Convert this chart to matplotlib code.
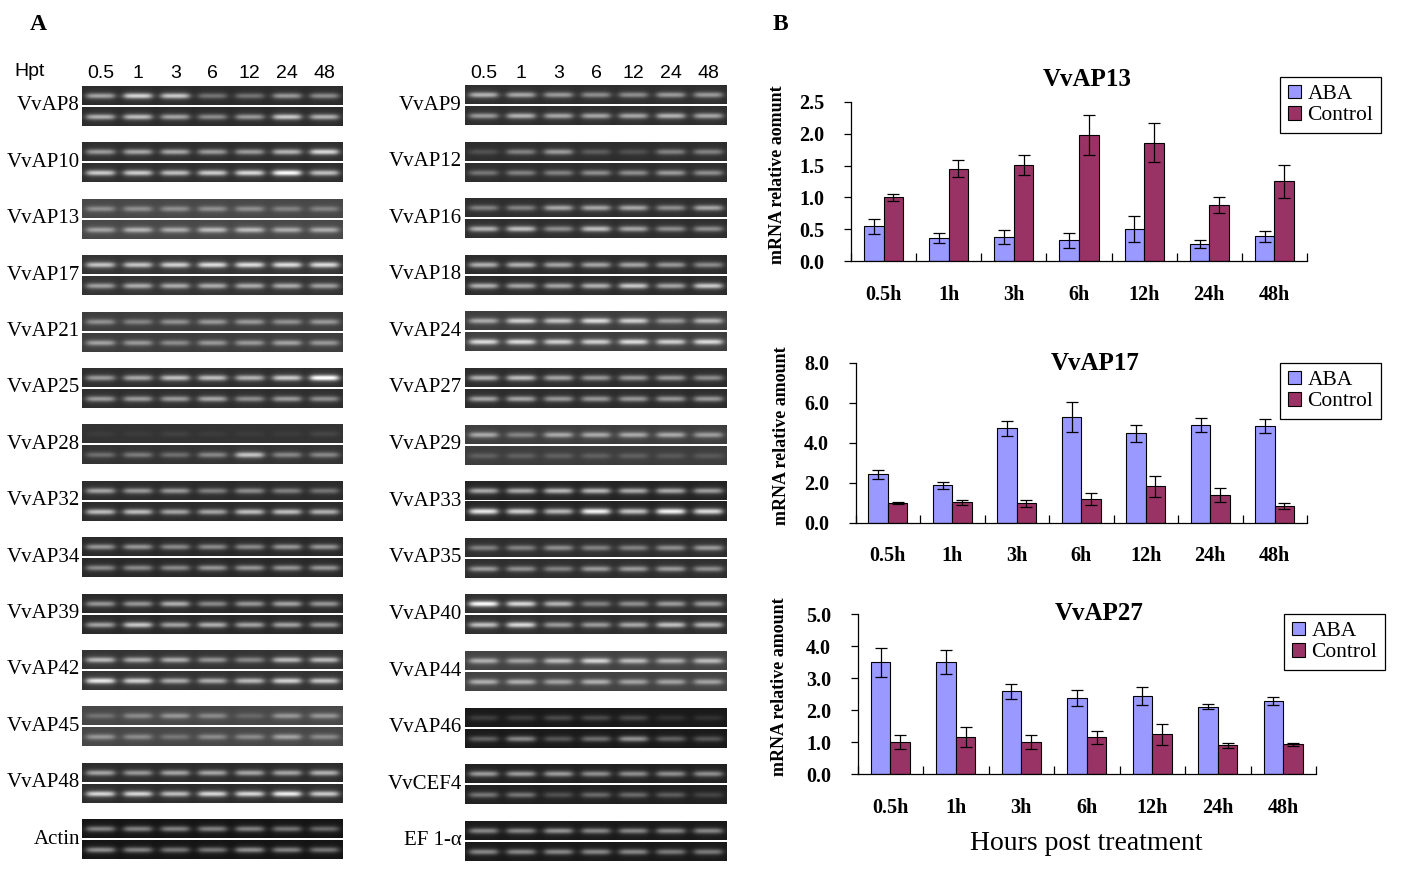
import numpy as np
import matplotlib
matplotlib.use("Agg")
import matplotlib.pyplot as plt
from matplotlib.patches import Patch

SERIF = ["Liberation Serif", "DejaVu Serif"]
SANS = ["Liberation Sans", "DejaVu Sans"]
plt.rcParams["font.family"] = SERIF

W, H = 1412, 869

# ---------------- data: panel B ----------------
hours = ["0.5h", "1h", "3h", "6h", "12h", "24h", "48h"]

ap13_aba = [0.55, 0.36, 0.38, 0.33, 0.51, 0.27, 0.39]
ap13_aba_err = [0.12, 0.08, 0.11, 0.12, 0.20, 0.06, 0.09]
ap13_ctl = [1.00, 1.45, 1.51, 1.98, 1.86, 0.88, 1.25]
ap13_ctl_err = [0.06, 0.13, 0.16, 0.31, 0.30, 0.12, 0.26]

ap17_aba = [2.42, 1.87, 4.72, 5.27, 4.47, 4.87, 4.82]
ap17_aba_err = [0.21, 0.16, 0.36, 0.75, 0.41, 0.35, 0.35]
ap17_ctl = [1.00, 1.02, 0.97, 1.17, 1.82, 1.38, 0.82]
ap17_ctl_err = [0.04, 0.14, 0.16, 0.30, 0.52, 0.34, 0.15]

ap27_aba = [3.50, 3.50, 2.59, 2.37, 2.45, 2.11, 2.28]
ap27_aba_err = [0.46, 0.37, 0.24, 0.25, 0.28, 0.07, 0.12]
ap27_ctl = [0.99, 1.15, 0.99, 1.15, 1.24, 0.90, 0.93]
ap27_ctl_err = [0.22, 0.31, 0.22, 0.21, 0.32, 0.08, 0.05]

# ---------------- data: panel A (semi-quantitative RT-PCR gels) ----------------
lane_labels = ["0.5", "1", "3", "6", "12", "24", "48"]

left_genes = ["VvAP8", "VvAP10", "VvAP13", "VvAP17", "VvAP21", "VvAP25", "VvAP28",
              "VvAP32", "VvAP34", "VvAP39", "VvAP42", "VvAP45", "VvAP48", "Actin"]
left_top = [
    [0.50, 0.70, 0.65, 0.30, 0.30, 0.45, 0.40],
    [0.45, 0.50, 0.50, 0.45, 0.45, 0.55, 0.70],
    [0.30, 0.30, 0.30, 0.30, 0.30, 0.25, 0.25],
    [0.60, 0.60, 0.65, 0.70, 0.70, 0.70, 0.70],
    [0.35, 0.30, 0.35, 0.38, 0.38, 0.35, 0.38],
    [0.45, 0.50, 0.60, 0.60, 0.55, 0.65, 0.90],
    [0.04, 0.04, 0.06, 0.04, 0.04, 0.04, 0.08],
    [0.50, 0.45, 0.45, 0.35, 0.40, 0.35, 0.30],
    [0.45, 0.45, 0.40, 0.40, 0.40, 0.45, 0.45],
    [0.45, 0.45, 0.55, 0.40, 0.45, 0.50, 0.45],
    [0.55, 0.50, 0.50, 0.40, 0.35, 0.55, 0.55],
    [0.18, 0.28, 0.33, 0.28, 0.14, 0.33, 0.33],
    [0.50, 0.45, 0.50, 0.50, 0.50, 0.50, 0.55],
    [0.45, 0.45, 0.45, 0.45, 0.45, 0.40, 0.35],
]
left_bot = [
    [0.55, 0.60, 0.50, 0.40, 0.45, 0.65, 0.55],
    [0.65, 0.65, 0.60, 0.65, 0.70, 0.85, 0.60],
    [0.38, 0.45, 0.42, 0.48, 0.48, 0.42, 0.42],
    [0.45, 0.50, 0.50, 0.50, 0.50, 0.50, 0.45],
    [0.42, 0.38, 0.33, 0.38, 0.38, 0.42, 0.38],
    [0.45, 0.45, 0.45, 0.50, 0.40, 0.45, 0.40],
    [0.25, 0.30, 0.25, 0.35, 0.60, 0.35, 0.35],
    [0.60, 0.60, 0.50, 0.50, 0.60, 0.60, 0.55],
    [0.40, 0.40, 0.40, 0.45, 0.45, 0.45, 0.45],
    [0.50, 0.65, 0.50, 0.55, 0.50, 0.50, 0.45],
    [0.75, 0.65, 0.50, 0.50, 0.55, 0.65, 0.60],
    [0.33, 0.28, 0.20, 0.28, 0.28, 0.38, 0.28],
    [0.70, 0.70, 0.60, 0.70, 0.70, 0.80, 0.65],
    [0.50, 0.45, 0.40, 0.40, 0.50, 0.45, 0.40],
]
left_bg = [0.17, 0.18, 0.28, 0.20, 0.24, 0.18, 0.20, 0.17, 0.16, 0.16, 0.20, 0.28, 0.17, 0.08]

right_genes = ["VvAP9", "VvAP12", "VvAP16", "VvAP18", "VvAP24", "VvAP27", "VvAP29",
               "VvAP33", "VvAP35", "VvAP40", "VvAP44", "VvAP46", "VvCEF4", "EF 1-\u03b1"]
right_top = [
    [0.55, 0.50, 0.45, 0.40, 0.40, 0.45, 0.45],
    [0.15, 0.35, 0.45, 0.20, 0.15, 0.35, 0.35],
    [0.35, 0.35, 0.50, 0.50, 0.50, 0.40, 0.50],
    [0.55, 0.55, 0.50, 0.50, 0.50, 0.45, 0.40],
    [0.45, 0.60, 0.55, 0.65, 0.60, 0.40, 0.50],
    [0.55, 0.60, 0.50, 0.45, 0.45, 0.45, 0.40],
    [0.45, 0.30, 0.45, 0.45, 0.45, 0.45, 0.40],
    [0.55, 0.55, 0.60, 0.60, 0.55, 0.55, 0.50],
    [0.35, 0.35, 0.40, 0.35, 0.35, 0.40, 0.45],
    [0.85, 0.70, 0.55, 0.35, 0.40, 0.45, 0.45],
    [0.45, 0.40, 0.50, 0.60, 0.50, 0.45, 0.50],
    [0.15, 0.15, 0.20, 0.20, 0.20, 0.10, 0.10],
    [0.50, 0.50, 0.50, 0.45, 0.45, 0.45, 0.45],
    [0.45, 0.45, 0.50, 0.45, 0.45, 0.45, 0.45],
]
right_bot = [
    [0.45, 0.55, 0.50, 0.50, 0.50, 0.55, 0.50],
    [0.30, 0.35, 0.35, 0.40, 0.40, 0.45, 0.40],
    [0.55, 0.60, 0.40, 0.60, 0.50, 0.40, 0.40],
    [0.55, 0.50, 0.50, 0.55, 0.65, 0.50, 0.65],
    [0.65, 0.65, 0.60, 0.60, 0.65, 0.60, 0.65],
    [0.50, 0.50, 0.45, 0.45, 0.45, 0.45, 0.45],
    [0.15, 0.15, 0.15, 0.15, 0.15, 0.12, 0.12],
    [0.80, 0.70, 0.60, 0.85, 0.65, 0.85, 0.75],
    [0.45, 0.40, 0.35, 0.45, 0.45, 0.45, 0.40],
    [0.60, 0.70, 0.45, 0.45, 0.50, 0.60, 0.55],
    [0.45, 0.45, 0.40, 0.45, 0.40, 0.40, 0.40],
    [0.30, 0.45, 0.25, 0.35, 0.50, 0.30, 0.25],
    [0.35, 0.35, 0.20, 0.30, 0.30, 0.25, 0.15],
    [0.45, 0.45, 0.45, 0.45, 0.45, 0.40, 0.40],
]
right_bg = [0.18, 0.18, 0.18, 0.17, 0.24, 0.17, 0.24, 0.14, 0.18, 0.18, 0.26, 0.10, 0.13, 0.10]

ABA_COLOR = "#9999FF"
CTL_COLOR = "#993366"

fig = plt.figure(figsize=(W / 100, H / 100), dpi=100)

# ---------------- panel A ----------------
axA = fig.add_axes([0, 0, 1, 1])
axA.set_axis_off()


def gel_strip(ax, x0, x1, y0, y1, vals, bg):
    s = 3
    h = int(round((y1 - y0) * s))
    w = int(round((x1 - x0) * s))
    yy = (np.arange(h) + 0.5) / s
    xx = (np.arange(w) + 0.5) / s
    lane_w = (x1 - x0) / len(vals)
    img = np.full((h, w), float(bg))
    yc = (y1 - y0) * 0.52
    vprof = np.exp(-0.5 * ((yy - yc) / 1.9) ** 2)
    halo = np.exp(-0.5 * ((yy - yc) / 4.5) ** 2)
    for j, v in enumerate(vals):
        cx = (j + 0.5) * lane_w
        hprof = 1.0 / (1.0 + np.exp((np.abs(xx - cx) - lane_w * 0.37) / 2.0))
        img += 0.85 * v * np.outer(vprof, hprof) + 0.12 * v * np.outer(halo, hprof)
    ax.imshow(np.clip(img, 0, 1), cmap="gray", vmin=0, vmax=1,
              extent=(x0, x1, y1, y0), aspect="auto", interpolation="bilinear", zorder=1)


def gel_column(genes, tops, bots, bgs, x0, x1, first_top, pitch, label_x):
    for i, g in enumerate(genes):
        yt = first_top + i * pitch
        gel_strip(axA, x0, x1, yt, yt + 19, tops[i], bgs[i])
        gel_strip(axA, x0, x1, yt + 21, yt + 40, bots[i], bgs[i])
        axA.text(label_x, yt + 20, g, ha="right", va="center", fontsize=15,
                 family=SERIF, zorder=3)


gel_column(left_genes, left_top, left_bot, left_bg, 82, 343, 86, 56.4, 80)
gel_column(right_genes, right_top, right_bot, right_bg, 465, 727, 85, 56.6, 462)

for j, lab in enumerate(lane_labels):
    axA.text(82 + (j + 0.5) * (343 - 82) / 7, 73, lab, ha="center", va="center",
             fontsize=14, family=SANS)
    axA.text(465 + (j + 0.5) * (727 - 465) / 7, 73, lab, ha="center", va="center",
             fontsize=14, family=SANS)
axA.text(14, 72, "Hpt", ha="left", va="center", fontsize=14, family=SANS)
axA.text(38, 24, "A", ha="center", va="center", fontsize=17, fontweight="bold", family=SERIF)
axA.text(780, 25, "B", ha="center", va="center", fontsize=17, fontweight="bold", family=SERIF)
axA.text(1086, 843, "Hours post treatment", ha="center", va="center", fontsize=20, family=SERIF)
axA.set_xlim(0, W)
axA.set_ylim(H, 0)


# ---------------- panel B ----------------
def bar_panel(box, aba, aba_err, ctl, ctl_err, ymax, ystep, title, title_x, title_y,
              ylabel, ylabel_x, legend_xy):
    l, r, t, b = box
    ax = fig.add_axes([l / W, 1 - b / H, (r - l) / W, (b - t) / H])
    x = np.arange(len(hours)) + 0.5
    bw = 0.3
    ekw = dict(ecolor="black", elinewidth=0.9, capsize=4, capthick=0.9)
    ax.bar(x - bw / 2, aba, bw, yerr=aba_err, color=ABA_COLOR, edgecolor="black",
           linewidth=0.8, error_kw=ekw, zorder=2)
    ax.bar(x + bw / 2, ctl, bw, yerr=ctl_err, color=CTL_COLOR, edgecolor="black",
           linewidth=0.8, error_kw=ekw, zorder=2)
    ax.set_xlim(0, len(hours))
    ax.set_ylim(0, ymax)
    ax.set_yticks(np.arange(0, ymax + 1e-9, ystep))
    ax.set_yticklabels([f"{v:.1f}" for v in np.arange(0, ymax + 1e-9, ystep)],
                       fontsize=14.5, fontweight="bold", family=SERIF)
    ax.set_xticks(np.arange(0, len(hours) + 1))
    ax.set_xticklabels([])
    ax.set_xticks(x, minor=True)
    ax.set_xticklabels(hours, minor=True, fontsize=14.5, fontweight="bold", family=SERIF)
    ax.tick_params(axis="x", which="major", direction="in", length=6, width=0.9)
    ax.tick_params(axis="x", which="minor", length=0, pad=17)
    ax.tick_params(axis="y", direction="out", length=5, width=0.9, pad=14)
    for sp in ["top", "right"]:
        ax.spines[sp].set_visible(False)
    for sp in ["left", "bottom"]:
        ax.spines[sp].set_linewidth(0.9)
    ax.patch.set_alpha(0)
    fig.text(title_x / W, 1 - title_y / H, title, ha="center", va="center",
             fontsize=18, fontweight="bold", family=SERIF)
    fig.text(ylabel_x / W, 1 - ((t + b) / 2 - 7) / H, ylabel, ha="center", va="center",
             rotation=90, fontsize=13, fontweight="bold", family=SERIF)
    handles = [Patch(facecolor=ABA_COLOR, edgecolor="black", linewidth=0.8),
               Patch(facecolor=CTL_COLOR, edgecolor="black", linewidth=0.8)]
    leg = ax.legend(handles, ["ABA", "Control"], loc="upper left",
                    bbox_to_anchor=(legend_xy[0] / W, 1 - legend_xy[1] / H),
                    bbox_transform=fig.transFigure, frameon=True, fancybox=False,
                    edgecolor="black", framealpha=1, borderpad=0.35, labelspacing=0.08,
                    handlelength=0.62, handleheight=0.62, handletextpad=0.3,
                    borderaxespad=0, prop=dict(family=SERIF, size=15.5))
    leg.get_frame().set_linewidth(0.9)
    return ax


bar_panel((851, 1307, 101.7, 261.3), ap13_aba, ap13_aba_err, ap13_ctl, ap13_ctl_err,
          2.5, 0.5, "VvAP13", 1087, 80, "mRNA relative aomunt", 778, (1280, 77))
bar_panel((855.6, 1307, 362.7, 522.7), ap17_aba, ap17_aba_err, ap17_ctl, ap17_ctl_err,
          8.0, 2.0, "VvAP17", 1095, 363, "mRNA relative amount", 782, (1280, 363))
bar_panel((857.6, 1316, 614.3, 774), ap27_aba, ap27_aba_err, ap27_ctl, ap27_ctl_err,
          5.0, 1.0, "VvAP27", 1099, 614, "mRNA relative amount", 780, (1284, 614))

fig.savefig("out.png", dpi=100)
